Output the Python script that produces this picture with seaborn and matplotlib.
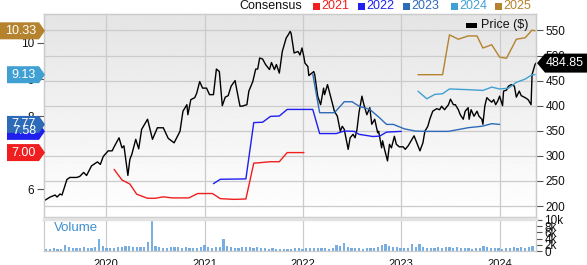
import numpy as np
import matplotlib
matplotlib.use("Agg")
import matplotlib.pyplot as plt
import matplotlib.transforms as mtransforms
from matplotlib.patches import Polygon, Rectangle
import seaborn as sns

# ---------------- data ----------------
price_t = [2019.38, 2019.43, 2019.48, 2019.50, 2019.53, 2019.55, 2019.60, 2019.63, 2019.70, 2019.73,
           2019.77, 2019.80, 2019.85, 2019.91, 2019.94, 2019.97, 2020.02, 2020.06, 2020.08, 2020.13,
           2020.16, 2020.18, 2020.22, 2020.24, 2020.26, 2020.30, 2020.33, 2020.36, 2020.42, 2020.47,
           2020.52, 2020.58, 2020.63, 2020.69, 2020.75, 2020.78, 2020.82, 2020.83, 2020.86, 2020.90,
           2020.92, 2020.95, 2020.98, 2021.02, 2021.05, 2021.09, 2021.12, 2021.15, 2021.18, 2021.21,
           2021.24, 2021.27, 2021.31, 2021.33, 2021.36, 2021.38, 2021.43, 2021.45, 2021.49, 2021.52,
           2021.54, 2021.56, 2021.59, 2021.62, 2021.66, 2021.68, 2021.71, 2021.73, 2021.76, 2021.79,
           2021.83, 2021.85, 2021.87, 2021.88, 2021.91, 2021.95, 2021.97, 2021.99, 2022.01, 2022.02,
           2022.05, 2022.06, 2022.11, 2022.12, 2022.15, 2022.18, 2022.21, 2022.22, 2022.25, 2022.28,
           2022.32, 2022.35, 2022.38, 2022.40, 2022.42, 2022.46, 2022.48, 2022.51, 2022.53, 2022.55,
           2022.57, 2022.60, 2022.62, 2022.65, 2022.68, 2022.70, 2022.73, 2022.76, 2022.77, 2022.80,
           2022.81, 2022.83, 2022.86, 2022.88, 2022.90, 2022.93, 2022.95, 2022.98, 2023.02, 2023.04,
           2023.07, 2023.10, 2023.13, 2023.17, 2023.19, 2023.22, 2023.24, 2023.27, 2023.29, 2023.32,
           2023.36, 2023.39, 2023.41, 2023.44, 2023.48, 2023.50, 2023.53, 2023.55, 2023.58, 2023.60,
           2023.63, 2023.65, 2023.68, 2023.69, 2023.71, 2023.74, 2023.77, 2023.79, 2023.82, 2023.83,
           2023.85, 2023.87, 2023.89, 2023.92, 2023.94, 2023.96, 2023.98, 2024.00, 2024.03, 2024.04,
           2024.07, 2024.09, 2024.12, 2024.15, 2024.17, 2024.20, 2024.22, 2024.26, 2024.29, 2024.32,
           2024.33, 2024.36, 2024.37]
price = [212, 218, 222, 218, 224, 222, 253, 257, 257, 259,
         267, 261, 280, 288, 283, 299, 310, 310, 318, 336,
         316, 320, 261, 293, 303, 333, 314, 353, 373, 333,
         356, 356, 335, 326, 349, 389, 402, 382, 412, 416,
         425, 448, 435, 435, 422, 422, 473, 468, 400, 417,
         420, 439, 450, 429, 399, 399, 402, 429, 448, 473,
         473, 495, 493, 482, 472, 486, 472, 482, 465, 508,
         535, 541, 548, 544, 505, 508, 501, 515, 497, 485,
         478, 460, 468, 462, 419, 402, 435, 422, 442, 419,
         389, 379, 349, 359, 353, 313, 336, 343, 336, 353,
         386, 419, 402, 382, 396, 363, 373, 346, 349, 316,
         330, 313, 290, 323, 316, 339, 323, 318, 318, 313,
         320, 330, 340, 320, 310, 326, 349, 359, 373, 389,
         394, 392, 399, 392, 402, 413, 402, 402, 392, 382,
         373, 389, 396, 373, 392, 379, 389, 379, 373, 363,
         400, 416, 412, 407, 412, 402, 409, 419, 400, 429,
         431, 439, 442, 439, 417, 429, 420, 416, 412, 402,
         462, 482, 484.85]

eps2021_t = [2020.08, 2020.16, 2020.24, 2020.31, 2020.42, 2020.50, 2020.58, 2020.67, 2020.84, 2020.93,
             2021.08, 2021.16, 2021.30, 2021.42, 2021.50, 2021.59, 2021.67, 2021.76, 2021.84, 2022.01]
eps2021 = [6.54, 6.25, 6.14, 5.86, 5.75, 5.75, 5.79, 5.76, 5.76, 5.88,
           5.88, 5.74, 5.72, 5.73, 6.71, 6.73, 6.75, 6.75, 7.00, 7.00]

eps2022_t = [2021.09, 2021.16, 2021.42, 2021.50, 2021.59, 2021.67, 2021.76, 2021.84, 2022.10, 2022.17,
             2022.34, 2022.42, 2022.52, 2022.57, 2022.71, 2022.78, 2022.85, 2023.00]
eps2022 = [6.15, 6.27, 6.28, 7.82, 7.83, 7.99, 8.00, 8.18, 8.18, 7.52,
           7.52, 7.59, 7.58, 7.50, 7.44, 7.45, 7.56, 7.58]

eps2023_t = [2022.10, 2022.17, 2022.32, 2022.42, 2022.50, 2022.57, 2022.68, 2022.78, 2022.85, 2022.92,
             2023.03, 2023.14, 2023.24, 2023.48, 2023.68, 2023.82, 2023.92, 2024.00]
eps2023 = [9.15, 8.09, 8.09, 8.39, 8.39, 8.27, 8.18, 7.95, 7.77, 7.77,
           7.65, 7.59, 7.58, 7.58, 7.68, 7.72, 7.79, 7.77]

eps2024_t = [2023.17, 2023.26, 2023.34, 2023.42, 2023.49, 2023.68, 2023.83, 2023.92, 2024.00, 2024.09,
             2024.17, 2024.26, 2024.33, 2024.36]
eps2024 = [8.68, 8.47, 8.59, 8.61, 8.74, 8.72, 8.70, 8.79, 8.74, 8.76,
           8.92, 9.01, 9.13, 9.13]

eps2025_t = [2023.17, 2023.42, 2023.49, 2023.58, 2023.68, 2023.77, 2023.83, 2023.92, 2024.00, 2024.07,
             2024.17, 2024.26, 2024.33, 2024.36]
eps2025 = [9.13, 9.13, 10.22, 10.10, 10.19, 10.19, 9.86, 9.95, 9.61, 9.58,
           10.10, 10.14, 10.35, 10.33]

# biweekly volume in thousands
volume_k = [0.8, 0.7, 0.9, 0.8, 0.6, 1.8, 1.2, 0.9, 0.9, 1.1, 1.2, 1.0, 1.1, 1.3, 3.8, 1.5,
            1.0, 0.9, 1.1, 1.3, 1.4, 1.6, 1.5, 1.4, 1.2, 1.3, 1.4, 2.9, 9.8, 1.6, 1.2, 1.1, 1.0,
            1.2, 1.3, 1.2, 1.1, 1.3, 1.0, 0.9, 1.1, 1.4, 1.8,
            1.2, 0.9, 1.4, 1.2, 4.0, 1.7, 1.2, 0.9, 1.0, 1.3, 1.3, 1.3, 1.1, 1.4, 0.9, 0.9,
            0.8, 0.9, 0.7, 0.8, 0.7, 0.8, 0.8, 1.0, 0.9, 0.8,
            1.0, 0.9, 0.9, 1.1, 1.0, 0.9, 0.7, 0.9, 1.8, 1.7, 2.6, 1.2, 1.0, 0.9, 0.9, 0.8,
            0.9, 1.0, 1.1, 1.4, 1.9, 2.3, 1.5, 1.4, 1.3,
            0.9, 1.1, 0.9, 2.3, 1.3, 2.3, 1.2, 1.1, 1.0, 1.1, 1.2, 1.1, 1.2, 1.4, 1.1, 1.2,
            0.9, 1.0, 1.0, 0.8, 1.0, 1.1, 1.5, 1.2, 0.9, 1.0,
            0.9, 0.8, 1.0, 1.1, 1.2, 1.1, 1.3, 1.0, 1.2, 1.5]
volume_t = list(2019.39 + np.arange(len(volume_k)) * (14 / 365.25))

years = [2020, 2021, 2022, 2023, 2024]
price_ticks = [200, 250, 300, 350, 400, 450, 500, 550]
eps_ticks = [6, 7, 8, 9, 10]
vol_ticks = [0, 2, 4, 6, 8, 10]
vol_labels = ["0", "2k", "4k", "6k", "8k", "10k"]

series = [("2021", eps2021_t, eps2021, "#f01e1e"),
          ("2022", eps2022_t, eps2022, "#1f1ff0"),
          ("2023", eps2023_t, eps2023, "#2d6ab8"),
          ("2024", eps2024_t, eps2024, "#40a0d4"),
          ("2025", eps2025_t, eps2025, "#b5822e")]

# ---------------- style ----------------
sns.set_theme(style="white")
plt.rcParams['font.family'] = ['Liberation Sans', 'DejaVu Sans']
FONTS = ['Liberation Sans', 'DejaVu Sans']
FS = 8.5
GRID = "#cbcbcb"

W, H = 587, 265
fig = plt.figure(figsize=(W / 100, H / 100), dpi=100)
L, R = 44, 536
TOP, MB = 14, 217
VT, VB = 219, 251
ax = fig.add_axes([L / W, 1 - MB / H, (R - L) / W, (MB - TOP) / H])
axe = ax.twinx()
axv = fig.add_axes([L / W, 1 - VB / H, (R - L) / W, (VB - VT) / H])

xlim = (2019.367, 2024.37)

# gradient background (light gray at top fading to white)
grad = np.linspace(0.895, 1.0, 256).reshape(-1, 1)
ax.imshow(grad, cmap="gray", vmin=0, vmax=1, extent=[0, 1, 0, 1], transform=ax.transAxes,
          aspect="auto", zorder=0, origin="upper", interpolation="bilinear")

# price line on main (right-tick) axis
sns.lineplot(x=price_t, y=price, ax=ax, color="black", lw=1.0, estimator=None, sort=False, zorder=3)
ax.set_xlim(*xlim)
ax.set_ylim(178.2, 582.7)
ax.set_yticks(price_ticks)
ax.set_xticks(years)
ax.yaxis.tick_right()
ax.yaxis.set_label_position("right")
ax.tick_params(axis="y", which="both", right=True, left=False, length=5, width=0.8,
               color="#555555", labelsize=FS, labelcolor="#111111", pad=2)
ax.tick_params(axis="x", bottom=False, labelbottom=False)
ax.grid(True, color=GRID, lw=0.9)
ax.set_axisbelow(True)
ax.set_xlabel("")
ax.set_ylabel("")

# consensus EPS lines on left axis
for name, t, v, c in series:
    sns.lineplot(x=t, y=v, ax=axe, color=c, lw=1.0, estimator=None, sort=False)
axe.set_xlim(*xlim)
axe.set_ylim(5.238, 10.79)
axe.set_yticks(eps_ticks)
axe.yaxis.tick_left()
axe.tick_params(axis="y", left=True, right=False, length=5, width=0.8, color="#555555",
                labelsize=FS, labelcolor="#111111", pad=2)
axe.grid(False)
axe.set_ylabel("")
for a in (ax, axe):
    for s in a.spines.values():
        s.set_color(GRID)
        s.set_linewidth(0.9)

# volume panel
sns.barplot(x=volume_t, y=volume_k, ax=axv, native_scale=True, color="#78afe0",
            width=0.6, linewidth=0, saturation=1, errorbar=None)
axv.set_xlim(*xlim)
axv.set_ylim(0, 10.3)
axv.set_yticks(vol_ticks)
axv.set_yticklabels(vol_labels)
axv.yaxis.tick_right()
axv.tick_params(axis="y", right=True, left=False, length=4, width=0.8, color="#555555",
                labelsize=FS, labelcolor="#111111", pad=2)
axv.set_xticks(years)
axv.set_xticklabels([str(y) for y in years])
axv.tick_params(axis="x", bottom=False, labelsize=8, labelcolor="#111111", pad=0)
axv.grid(True, axis="x", color=GRID, lw=0.9)
axv.set_axisbelow(True)
axv.set_xlabel("")
axv.set_ylabel("")
for s in axv.spines.values():
    s.set_color(GRID)
    s.set_linewidth(0.9)
axv.spines["top"].set_linewidth(2.5)
axv.spines["top"].set_color("#e2e2e2")
axv.text(0.02, 0.72, "Volume", transform=axv.transAxes, color="#3d8fd2", fontsize=9.5,
         va="center", ha="left")

# ---------------- value labels ----------------
fig.canvas.draw()
ident = mtransforms.IdentityTransform()
for name, t, v, c in series:
    y = axe.transData.transform((xlim[0], v[-1]))[1]
    txt = f"{v[-1]:.2f}"
    xl = 0 if len(txt) > 4 else 7
    pts = [(xl, y - 8.5), (39, y - 8.5), (45, y), (39, y + 8.5), (xl, y + 8.5)]
    fig.add_artist(Polygon(pts, closed=True, transform=ident, facecolor=c, edgecolor="none"))
    fig.add_artist(plt.Text((xl + 39) / 2 + 1, y, txt, transform=ident, color="white",
                            fontsize=FS + 0.5, ha="center", va="center", fontfamily=FONTS))

yp = ax.transData.transform((xlim[1], price[-1]))[1]
pts = [(537, yp), (545, yp + 9.5), (587, yp + 9.5), (587, yp - 9.5), (545, yp - 9.5)]
fig.add_artist(Polygon(pts, closed=True, transform=ident, facecolor="black", edgecolor="none"))
fig.add_artist(plt.Text(565, yp, f"{price[-1]:.2f}", transform=ident, color="white",
                        fontsize=FS + 0.5, ha="center", va="center", fontfamily=FONTS))

# ---------------- legends ----------------
ytop = H - 6
fig.add_artist(plt.Text(239, ytop, "Consensus", transform=ident, color="#111111",
                        fontsize=FS + 0.5, ha="left", va="center", fontfamily=FONTS))
sq_x = [313, 358, 403, 451, 495]
for (name, t, v, c), sx in zip(series, sq_x):
    fig.add_artist(Rectangle((sx, ytop - 3.5), 6.5, 7, transform=ident, facecolor=c, edgecolor="none"))
    fig.add_artist(plt.Text(sx + 8, ytop, name, transform=ident, color=c, fontsize=FS + 0.5,
                            ha="left", va="center", fontfamily=FONTS))

yl = H - 25
fig.add_artist(Rectangle((466, yl - 2.5), 11, 5, transform=ident, facecolor="black", edgecolor="none"))
fig.add_artist(plt.Text(481, yl, "Price ($)", transform=ident, color="#111111", fontsize=FS + 0.5,
                        ha="left", va="center", fontfamily=FONTS))

fig.savefig("out.png", dpi=100)
